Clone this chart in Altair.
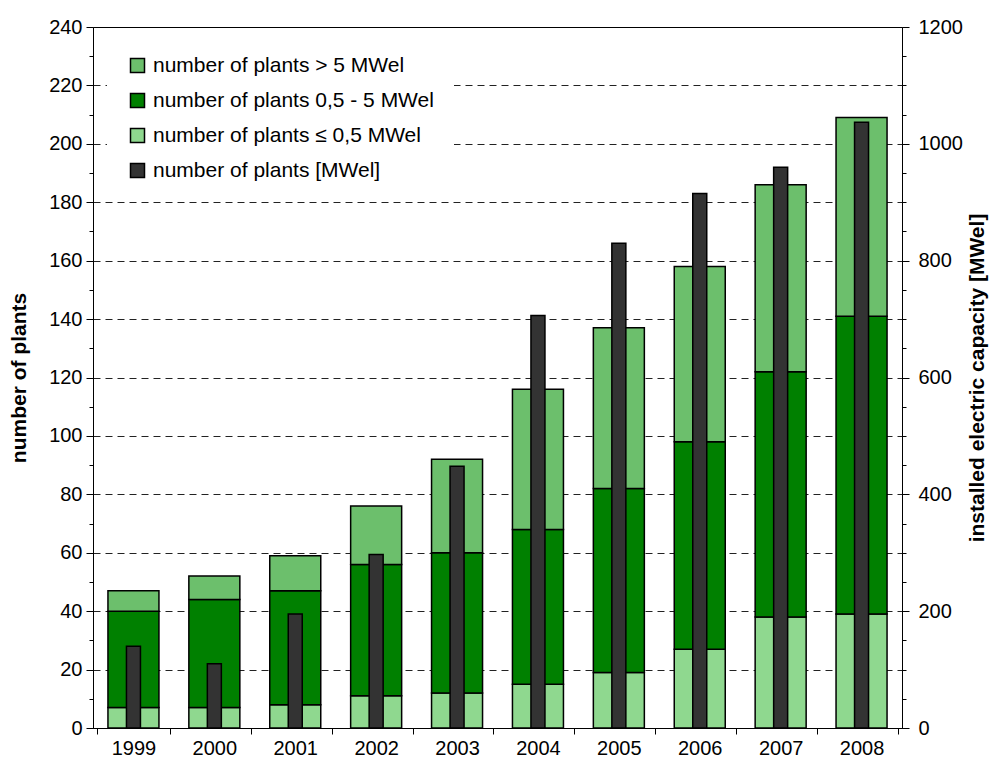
import altair as alt
import pandas as pd

years = ["1999", "2000", "2001", "2002", "2003", "2004", "2005", "2006", "2007", "2008"]
plants_small = [7, 7, 8, 11, 12, 15, 19, 27, 38, 39]          # <= 0,5 MWel
plants_medium = [33, 37, 39, 45, 48, 53, 63, 71, 84, 102]     # 0,5 - 5 MWel
plants_large = [7, 8, 12, 20, 32, 48, 55, 60, 64, 68]         # > 5 MWel
capacity_mw = [140, 110, 195, 297, 448, 706, 830, 915, 960, 1037]

cat_large = "number of plants > 5 MWel"
cat_medium = "number of plants 0,5 - 5 MWel"
cat_small = "number of plants \u2264 0,5 MWel"
cat_mw = "number of plants [MWel]"
categories = [cat_large, cat_medium, cat_small, cat_mw]
colors = ["#6cbf6c", "#008000", "#8fd88f", "#333333"]

rows = []
for i, y in enumerate(years):
    rows.append({"year": y, "cat": cat_small, "n": plants_small[i], "ord": 0})
    rows.append({"year": y, "cat": cat_medium, "n": plants_medium[i], "ord": 1})
    rows.append({"year": y, "cat": cat_large, "n": plants_large[i], "ord": 2})
df_plants = pd.DataFrame(rows)
df_cap = pd.DataFrame({"year": years, "mw": capacity_mw})

FONT = "Liberation Sans"

color_scale = alt.Scale(domain=categories, range=colors)
legend = alt.Legend(
    title=None, orient="none", legendX=14, legendY=8,
    fillColor="white", padding=20, rowPadding=13,
    labelFont=FONT, labelFontSize=21, labelColor="black", labelOffset=5,
    symbolType="square", symbolSize=196, symbolStrokeColor="black",
    symbolStrokeWidth=1.5, labelLimit=400,
)

x_enc = alt.X(
    "year:N", title=None, sort=years,
    axis=alt.Axis(
        labelAngle=0, tickBand="extent", tickSize=6, labelPadding=4,
        labelFont=FONT, labelFontSize=20, labelColor="black",
        domainColor="black", tickColor="black",
    ),
)

bars = alt.Chart(df_plants).mark_bar(size=51, stroke="black", strokeWidth=1.5).encode(
    x=x_enc,
    y=alt.Y(
        "sum(n):Q", title="number of plants",
        scale=alt.Scale(domain=[0, 240], nice=False),
        axis=alt.Axis(
            orient="left", values=list(range(0, 241, 10)),
            labelExpr="datum.value % 20 === 0 ? datum.label : ''",
            tickSize={"condition": {"test": "datum.value % 20 === 0", "value": 7}, "value": 4},
            labelPadding=4, labelFont=FONT, labelFontSize=20, labelColor="black",
            titleFont=FONT, titleFontSize=21, titleFontWeight="bold", titleColor="black",
            titlePadding=19, domainColor="black", tickColor="black",
            grid=True, gridColor="#222222", gridDash=[7, 5],
            gridOpacity={"condition": {"test": "datum.value % 20 === 0 && datum.value > 0 && datum.value < 240", "value": 1}, "value": 0},
        ),
    ),
    color=alt.Color("cat:N", scale=color_scale, legend=legend),
    order=alt.Order("ord:Q"),
)

cap = alt.Chart(df_cap).mark_bar(size=14, stroke="black", strokeWidth=1.5).encode(
    x=x_enc,
    y=alt.Y(
        "mw:Q", title="installed electric capacity [MWel]",
        scale=alt.Scale(domain=[0, 1200], nice=False),
        axis=alt.Axis(
            orient="right", values=list(range(0, 1201, 50)),
            labelExpr="datum.value % 200 === 0 ? datum.label : ''",
            tickSize={"condition": {"test": "datum.value % 200 === 0", "value": 7}, "value": 4},
            labelPadding=9, labelFont=FONT, labelFontSize=20, labelColor="black",
            titleFont=FONT, titleFontSize=21, titleFontWeight="bold", titleColor="black",
            titleAngle=270, titlePadding=25, domainColor="black", tickColor="black",
            grid=False, format="d",
        ),
    ),
    color=alt.datum(cat_mw),
)

chart = alt.layer(bars, cap).resolve_scale(y="independent").properties(
    width=809, height=701,
    padding={"left": 85, "top": 19, "right": 88, "bottom": 29},
    autosize=alt.AutoSizeParams(type="none"),
    background="white",
).configure_view(stroke="black", strokeWidth=1)

chart.save("out.html", embed_options={"renderer": "svg", "actions": False})
